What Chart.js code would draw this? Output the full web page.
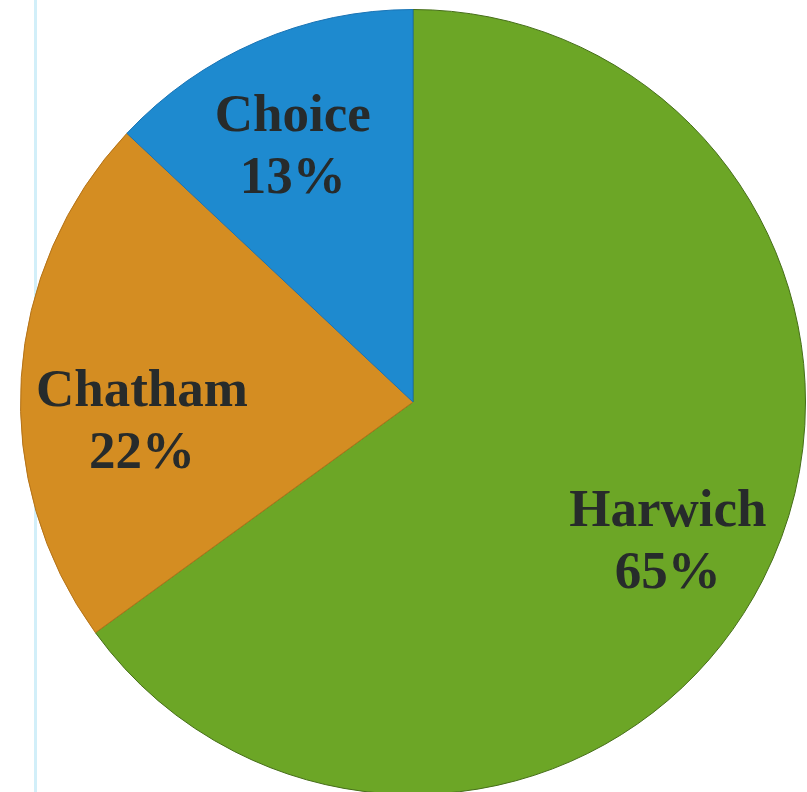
<!DOCTYPE html>
<html>
<head>
<meta charset="utf-8">
<script src="https://cdn.jsdelivr.net/npm/chart.js@4.4.1/dist/chart.umd.min.js"></script>
<style>
  html, body { margin: 0; padding: 0; background: #fff; overflow: hidden; }
  body { width: 807px; height: 792px; position: relative; }
  #edge { position: absolute; left: 34px; top: 0; width: 3px; height: 792px; background: #d2eff9; }
  #wrap { position: absolute; left: 20px; top: 9px; width: 786px; height: 786px; }
</style>
</head>
<body>
<div id="edge"></div>
<div id="wrap"><canvas id="myChart"></canvas></div>
<script>
var labels = ["Harwich", "Chatham", "Choice"];
var values = [65, 22, 13];
var colors = ["rgb(108, 166, 38)", "rgb(212, 141, 34)", "rgb(30, 138, 207)"];
var edges = ["rgb(70, 110, 25)", "rgb(180, 115, 25)", "rgb(25, 115, 180)"];

// name and percentage written inside each slice
var sliceLabels = {
  id: "sliceLabels",
  afterDatasetsDraw: function (chart) {
    var ctx = chart.ctx;
    var arcs = chart.getDatasetMeta(0).data;
    var nudge = [[3, 13], [11, 39], [-8, 6]];
    ctx.save();
    ctx.font = "bold 53px 'Liberation Serif', 'Times New Roman', serif";
    ctx.fillStyle = "#272b2b";
    ctx.textAlign = "center";
    ctx.textBaseline = "middle";
    arcs.forEach(function (arc, i) {
      var mid = (arc.startAngle + arc.endAngle) / 2;
      var r = arc.outerRadius * 0.72;
      var x = arc.x + Math.cos(mid) * r + nudge[i][0];
      var y = arc.y + Math.sin(mid) * r + nudge[i][1];
      ctx.fillText(labels[i], x, y - 31);
      ctx.fillText(values[i] + "%", x, y + 31);
    });
    ctx.restore();
  },
};

var ctx = document.getElementById("myChart").getContext("2d");
var chart = new Chart(ctx, {
  type: "pie",
  data: {
    labels: labels,
    datasets: [
      {
        data: values,
        backgroundColor: colors,
        borderColor: edges,
        borderWidth: 1,
      },
    ],
  },
  options: {
    responsive: true,
    maintainAspectRatio: false,
    animation: false,
    layout: { padding: 0 },
    plugins: {
      legend: { display: false },
      tooltip: { enabled: false },
    },
  },
  plugins: [sliceLabels],
});
</script>
</body>
</html>
